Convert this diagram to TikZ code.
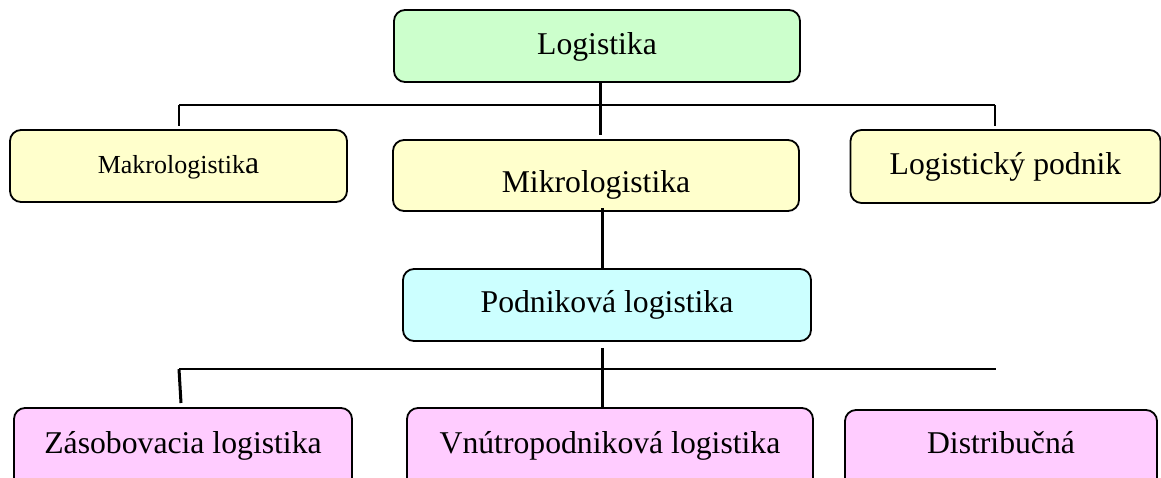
\documentclass[tikz,border=0pt]{standalone}
\usepackage{fontspec}
\setmainfont{Liberation Serif}
\definecolor{cgreen}{HTML}{CCFFCC}
\definecolor{cyellow}{HTML}{FFFFCC}
\definecolor{ccyan}{HTML}{CCFFFF}
\definecolor{cpink}{HTML}{FFCCFF}
\begin{document}
\begin{tikzpicture}[x=1pt,y=-1pt,
  box/.style={draw=black, line width=1.8pt, rounded corners=11pt, inner sep=0pt,
    text depth=7pt, font=\fontsize{31.7}{38}\selectfont},
  conn/.style={line width=2pt, line join=miter},
  vconn/.style={line width=3pt}]
\useasboundingbox (0,0) rectangle (1161,477);
\clip (0,0) rectangle (1161,477);
% level 1
\node[box, fill=cgreen, minimum width=406pt, minimum height=72pt, text height=23pt] (L) at (597,46) {Logistika};
% level 2
\node[box, fill=cyellow, minimum width=337pt, minimum height=72pt, text height=21pt] (Ma) at (178.5,166) {{\fontsize{26}{30}\selectfont Makrologistik}a};
\node[box, fill=cyellow, minimum width=406pt, minimum height=71pt, text height=40pt] (Mi) at (596,175.5) {Mikrologistika};
\node[box, fill=cyellow, minimum width=310pt, minimum height=73pt, text height=22pt] (LP) at (1005.5,166.5) {Logistický podnik};
% level 3
\node[box, fill=ccyan, minimum width=408pt, minimum height=72pt, text height=21pt] (P) at (607,305) {Podniková logistika};
% level 4
\node[box, fill=cpink, minimum width=338pt, minimum height=82pt, text height=15pt] (Z) at (183,449) {Zásobovacia logistika};
\node[box, fill=cpink, minimum width=406pt, minimum height=82pt, text height=15pt] (V) at (610,449) {Vnútropodniková logistika};
\node[box, fill=cpink, minimum width=312pt, minimum height=80pt, text height=13pt] (D) at (1001,450) {Distribučná};
% junction coordinates
\coordinate (tm) at (600,105);
\coordinate (tl) at (179,105);
\coordinate (tr) at (995,105);
\coordinate (pv) at (602,369);
\coordinate (bl) at (179,369);
\coordinate (br) at (996,369);
\coordinate (blz) at (181,403);
% connectors top
\draw[vconn, shorten >=4pt] (L.south -| tm) -- (Mi.north -| tm);
\draw[conn] (tl) -- (tr);
\draw[conn, shorten >=3pt] (tl) -- (tl |- Ma.north);
\draw[conn, shorten >=3pt] (tr) -- (tr |- LP.north);
% Mikro to Podnikova
\draw[vconn, shorten <=-4pt] (Mi.south -| pv) -- (P.north -| pv);
% bottom
\draw[vconn, shorten <=6pt] (P.south -| pv) -- (V.north -| pv);
\draw[conn] (bl) -- (br);
\draw[vconn] (bl) -- (blz);
\end{tikzpicture}
\end{document}
